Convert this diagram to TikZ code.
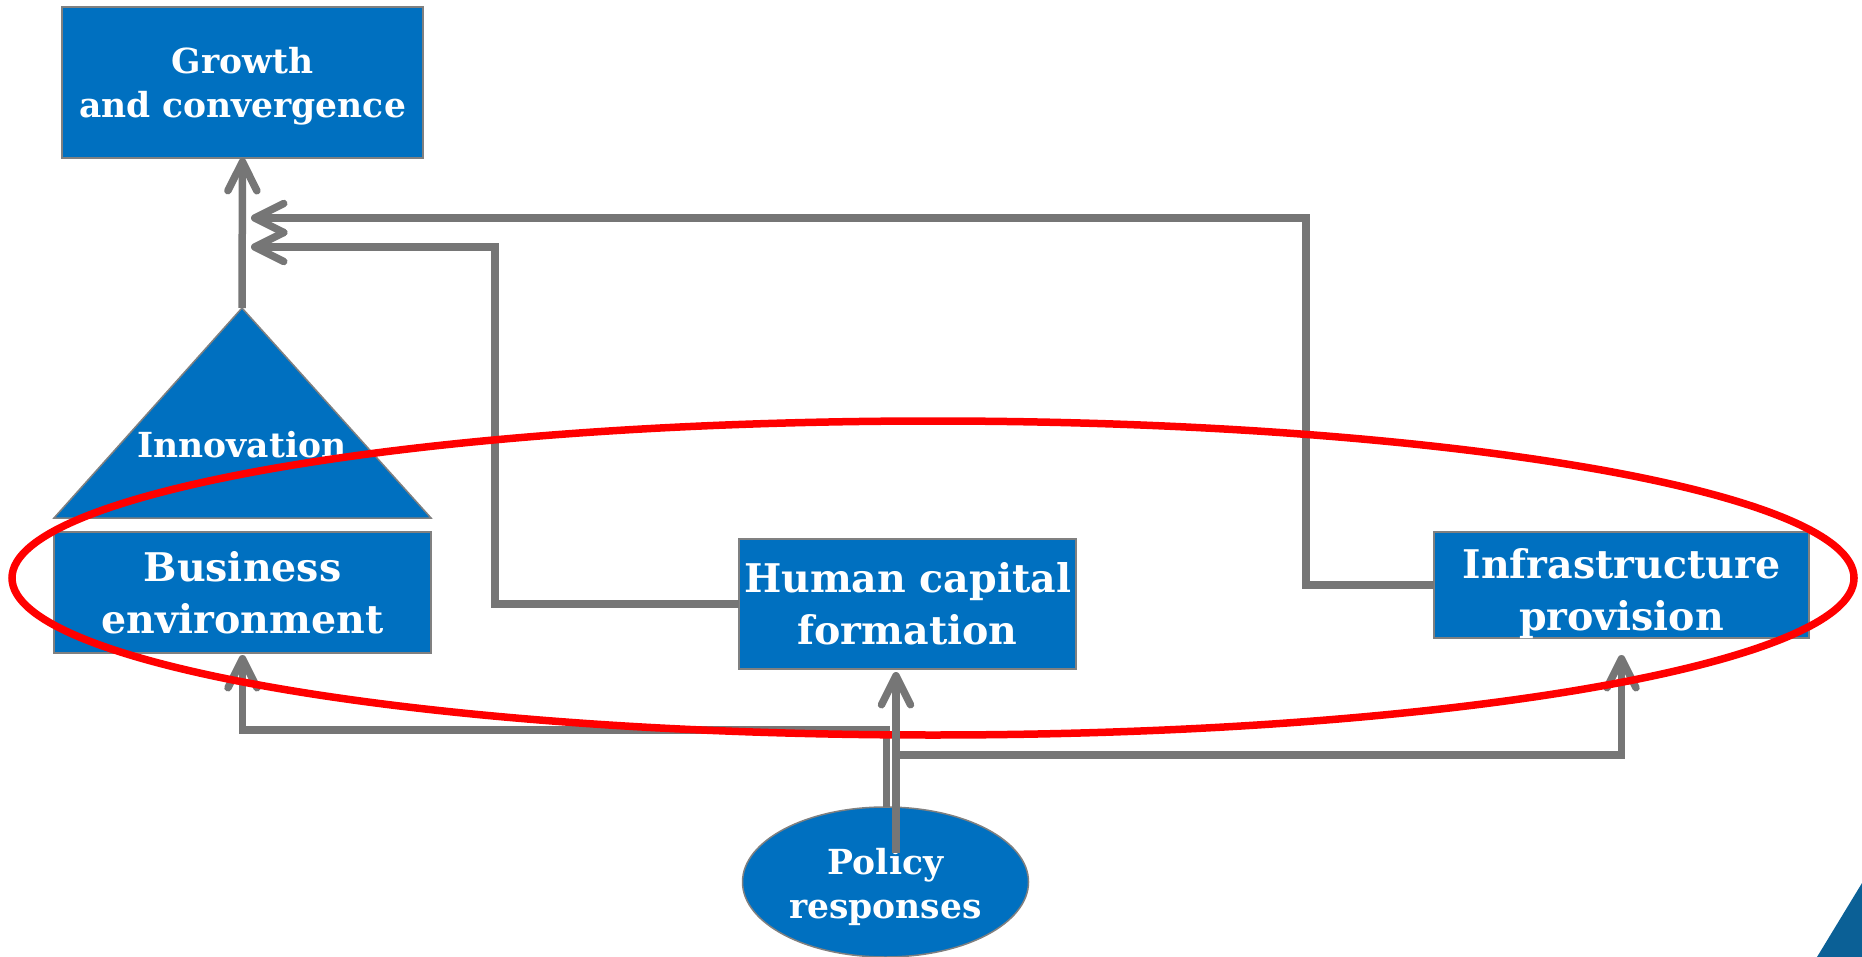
\documentclass[tikz,border=0pt]{standalone}
\usepackage{fontspec}
\setmainfont{DejaVu Serif}
\usetikzlibrary{arrows.meta,shapes.geometric}
\definecolor{boxblue}{RGB}{0,112,192}
\definecolor{linegray}{RGB}{118,118,118}
\definecolor{edgegray}{RGB}{128,128,128}
\definecolor{cornerblue}{RGB}{11,96,150}
\definecolor{ringred}{RGB}{255,0,0}
\tikzset{
  bluebox/.style={draw=edgegray, line width=1.5pt, fill=boxblue, text=white, align=center, inner sep=0pt, outer sep=0pt},
  boxtext/.style={text=white, align=center, inner sep=0pt},
  smalltext/.style={font=\fontsize{34.5}{44}\selectfont\bfseries},
  bigtext/.style={font=\fontsize{39.5}{52}\selectfont\bfseries},
  flow/.style={draw=linegray, line width=7.5pt, -{Straight Barb[length=29pt,width=29pt,round]}}
}

\begin{document}
\begin{tikzpicture}[x=1pt,y=-1pt]
\useasboundingbox (0,0) rectangle (1862,957);

\node[bluebox, minimum width=361pt, minimum height=151pt, label={[boxtext, smalltext, yshift=-4pt]center:{Growth\\and convergence}}] (growth) at (242.5,82.5) {};
\node[bluebox, bigtext, minimum width=377pt, minimum height=121pt] (biz) at (242.5,592.5) {Business\\environment};
\node[bluebox, bigtext, minimum width=337pt, minimum height=130pt] (hc) at (907.5,604) {Human capital\\formation};
\node[bluebox, minimum width=375pt, minimum height=106pt, label={[boxtext, bigtext, yshift=-9pt]center:{Infrastructure\\provision}}] (infra) at (1621.5,585) {};
\node[bluebox, ellipse, minimum width=286pt, minimum height=150pt, label={[boxtext, smalltext, yshift=-5pt]center:{Policy\\responses}}] (policy) at (885.5,882) {};

\coordinate (apex) at (242,308);
\coordinate (left) at (54,518);
\coordinate (right) at (431,518);
\fill[boxblue, draw=edgegray, line width=1.5pt] (apex) -- (right) -- (left) -- cycle;
\node[text=white, smalltext] (innov) at (242,445) {Innovation};

\fill[cornerblue] (1817,957) -- (1862,883) -- (1862,957) -- cycle;

\coordinate (g1) at (251,218);
\coordinate (g2) at (251,247);
\coordinate (p1) at (896,853);
\coordinate (p2) at (896,755);

\draw[flow] (apex) -- (growth.south);
\draw[flow] (infra.west) -- ++(-128,0) |- (g1);
\draw[flow] (hc.west) -- ++(-244,0) |- (g2);
\draw[flow] ([xshift=1pt]policy.north) -- ++(0,-77) -| ([yshift=-2pt]biz.south);
\draw[flow] (p2) -| ([yshift=-17pt]infra.south);

\draw[ringred, line width=7.5pt] (933,578) ellipse [x radius=921, y radius=157];

\draw[flow] (p1) -- ([yshift=-3pt]p1 |- hc.south);
\end{tikzpicture}
\end{document}
